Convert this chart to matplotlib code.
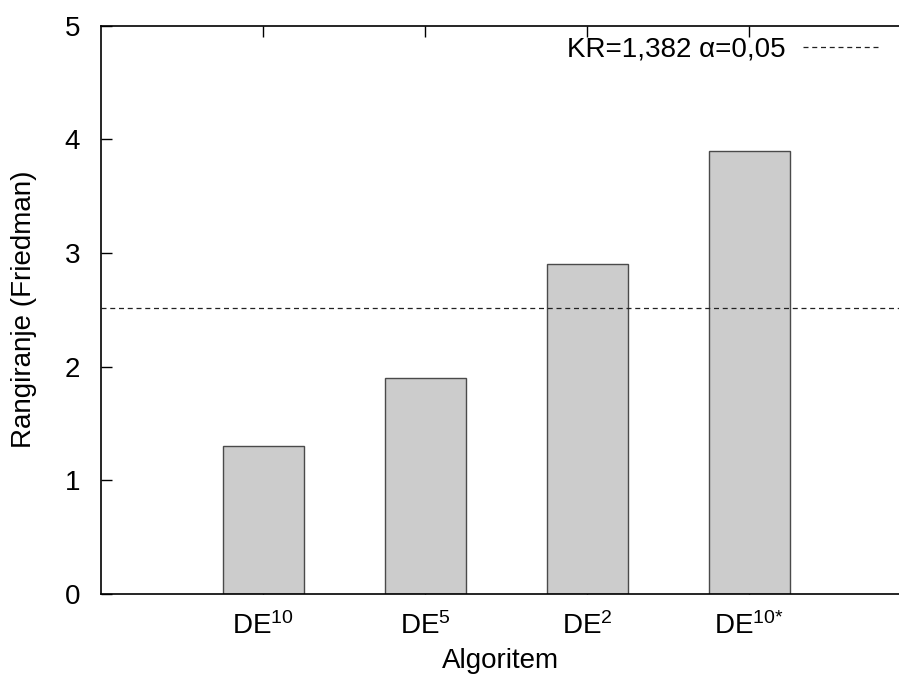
import numpy as np
import matplotlib
matplotlib.use('Agg')
import matplotlib.pyplot as plt
from matplotlib.lines import Line2D

# data
algorithms = ['$\\mathrm{DE}^{10}$', '$\\mathrm{DE}^{5}$', '$\\mathrm{DE}^{2}$', '$\\mathrm{DE}^{10\\mathrm{*}}$']
ranks = [1.3, 1.9, 2.9, 3.9]
critical_range = 1.382
threshold = max(ranks) - critical_range
legend_label = 'KR=1,382 \u03b1=0,05'

plt.rcParams['font.family'] = ['Liberation Sans', 'DejaVu Sans']
plt.rcParams['mathtext.fontset'] = 'custom'
plt.rcParams['mathtext.rm'] = 'Liberation Sans'
plt.rcParams['mathtext.it'] = 'Liberation Sans:italic'
plt.rcParams['mathtext.bf'] = 'Liberation Sans:bold'

fs = 20

fig = plt.figure(figsize=(8.99, 6.75), dpi=100)
ax = fig.add_axes([101 / 899, 81 / 675, 798 / 899, 568.5 / 675])

x = np.arange(1, len(ranks) + 1)
ax.bar(x, ranks, width=0.5, color='#cccccc', edgecolor='#4a4a4a', linewidth=1.0, zorder=2)

ax.axhline(threshold, color='#222222', linewidth=0.9, linestyle=(0, (4, 3)), zorder=3)

ax.set_xlim(0, 798 / 162)
ax.set_ylim(0, 5)
ax.set_xticks(x)
ax.set_xticklabels(algorithms, fontsize=fs)
ax.set_yticks([0, 1, 2, 3, 4, 5])
ax.set_yticklabels(['0', '1', '2', '3', '4', '5'], fontsize=fs)
ax.tick_params(direction='in', length=8, width=1, top=True, right=False)
ax.tick_params(axis='x', pad=13)
ax.tick_params(axis='y', pad=15)
ax.spines['right'].set_visible(False)
for s in ['left', 'top', 'bottom']:
    ax.spines[s].set_linewidth(1.2)

ax.set_xlabel('Algoritem', fontsize=fs, labelpad=6)
ax.set_ylabel('Rangiranje (Friedman)', fontsize=fs, labelpad=20)

handle = Line2D([], [], color='#222222', linewidth=0.9, linestyle=(0, (4, 3)))
ax.legend([handle], [legend_label], loc='upper right', frameon=False, markerfirst=False,
          fontsize=fs, handlelength=2.7, handletextpad=0.62, borderaxespad=0.0,
          bbox_to_anchor=(0.988, 1.0))

fig.savefig('out.png', dpi=100)
